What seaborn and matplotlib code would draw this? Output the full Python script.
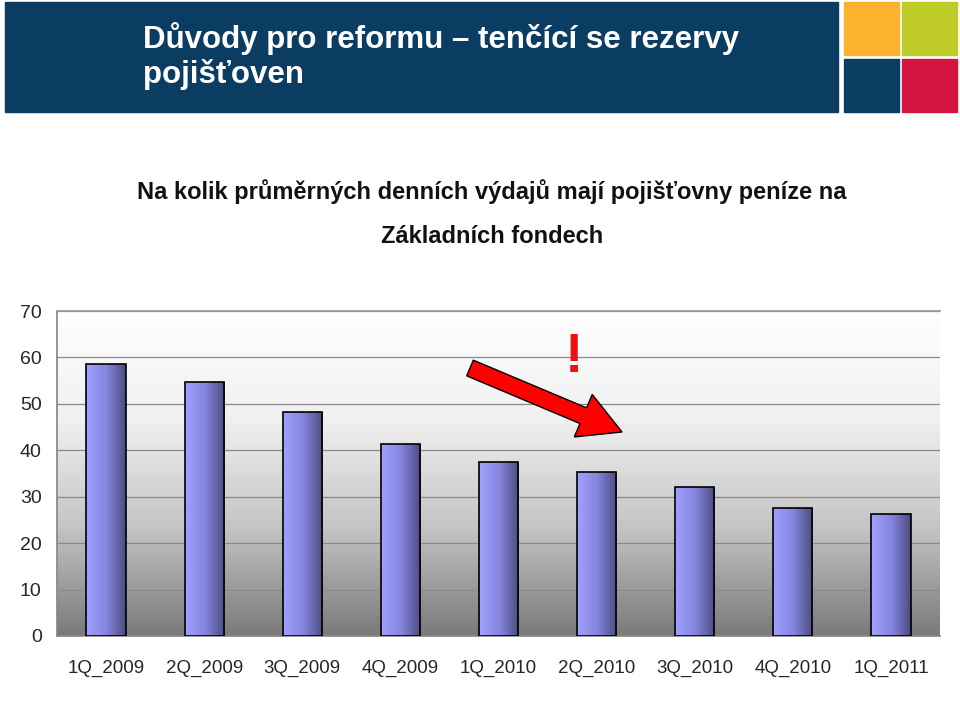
import matplotlib
matplotlib.use("Agg")
import matplotlib.pyplot as plt
import seaborn as sns
import numpy as np
import pandas as pd
from matplotlib.patches import Rectangle, FancyArrow
from matplotlib.colors import LinearSegmentedColormap

quarters = ["1Q_2009", "2Q_2009", "3Q_2009", "4Q_2009", "1Q_2010",
            "2Q_2010", "3Q_2010", "4Q_2010", "1Q_2011"]
days = [58.6, 54.7, 48.2, 41.4, 37.5, 35.3, 32.1, 27.6, 26.3]
yticks = [0, 10, 20, 30, 40, 50, 60, 70]

title_1 = "Důvody pro reformu – tenčící se rezervy"
title_2 = "pojišťoven"
subtitle_1 = "Na kolik průměrných denních výdajů mají pojišťovny peníze na"
subtitle_2 = "Základních fondech"

sns.set_theme(style="white")
plt.rcParams["font.family"] = ["Liberation Sans", "DejaVu Sans"]

fig = plt.figure(figsize=(9.6, 7.16), dpi=100)
W, H = 960, 716

def fx(x): return x / W
def fy(y): return 1 - y / H

# header
fig.patches.append(Rectangle((fx(5), fy(112)), 833 / W, 110 / H, transform=fig.transFigure,
                             color="#0b3d63", zorder=0))
for (x0, y0, c) in [(844, 2, "#fbb32e"), (902, 2, "#bfcb27"),
                    (844, 59, "#0b3d63"), (902, 59, "#d3163f")]:
    fig.patches.append(Rectangle((fx(x0), fy(y0 + 53)), 55 / W, 53 / H,
                                 transform=fig.transFigure, color=c, zorder=0))
fig.text(fx(143), fy(39), title_1, color="white",
         fontsize=22.5, fontweight="bold", va="center", ha="left")
fig.text(fx(143), fy(75), title_2, color="white",
         fontsize=22.5, fontweight="bold", va="center", ha="left")

fig.text(fx(492), fy(192), subtitle_1, fontsize=17, fontweight="bold",
         ha="center", va="center", color="#111111")
fig.text(fx(492), fy(236), subtitle_2, fontsize=17, fontweight="bold",
         ha="center", va="center", color="#111111")

ax = fig.add_axes([fx(57), fy(636), (940 - 57) / W, (636 - 311) / H])
df = pd.DataFrame({"quarter": quarters, "days": days})
sns.barplot(data=df, x="quarter", y="days", ax=ax, width=0.4,
            color="#8080d0", edgecolor="black", linewidth=1.2, zorder=3)
ax.set_yticks(yticks)
ax.set_yticklabels([str(t) for t in yticks])
ax.set_xlabel("")
ax.set_ylabel("")
ax.tick_params(axis="y", labelsize=14, pad=11, length=0)
ax.tick_params(axis="x", labelsize=13.5, pad=17, length=0)
for t in yticks[1:]:
    ax.axhline(t, color="#8a8a8a", lw=0.9, zorder=1)

# background gradient
bg = np.linspace(0, 1, 256).reshape(-1, 1)
bgcmap = LinearSegmentedColormap.from_list("bg", ["#ffffff", "#f0f0f0", "#c4c4c4", "#7a7a7a"])
ax.imshow(1 - bg, cmap=bgcmap, aspect="auto", extent=(-0.5, len(quarters) - 0.5, 0, 70),
          origin="lower", zorder=0)
ax.set_xlim(-0.5, len(quarters) - 0.5)
ax.set_ylim(0, 70)

# bar gradients
barcmap = LinearSegmentedColormap.from_list("bar", ["#a0a0ff", "#8686e0", "#4c4c80"])
grad = np.linspace(0, 1, 128).reshape(1, -1)
for p in ax.patches:
    x0, w, h = p.get_x(), p.get_width(), p.get_height()
    im = ax.imshow(grad, cmap=barcmap, aspect="auto", extent=(x0, x0 + w, 0, h),
                   origin="lower", zorder=3.5)
    im.set_clip_path(p)
    p.set_facecolor("none")
    p.set_zorder(4)

ax.spines["right"].set_visible(False)
ax.spines["left"].set_color("#888888")
ax.spines["bottom"].set_color("#888888")
ax.spines["top"].set_color("#999999")

# arrow (in inches, isotropic)
def inch(px, py): return px / 100, (H - py) / 100
x1, y1 = inch(470, 368)
x2, y2 = inch(622, 432)
arr = FancyArrow(x1, y1, x2 - x1, y2 - y1, width=0.17, head_width=0.46,
                 head_length=0.42, length_includes_head=True,
                 transform=fig.dpi_scale_trans, facecolor="#ff0000", edgecolor="black",
                 lw=1.0, zorder=10)
fig.patches.append(arr)
fig.text(fx(574), fy(358), "!", color="#ee1111", fontsize=40, fontweight="bold",
         ha="center", va="center")

fig.savefig("out.png", dpi=100)
